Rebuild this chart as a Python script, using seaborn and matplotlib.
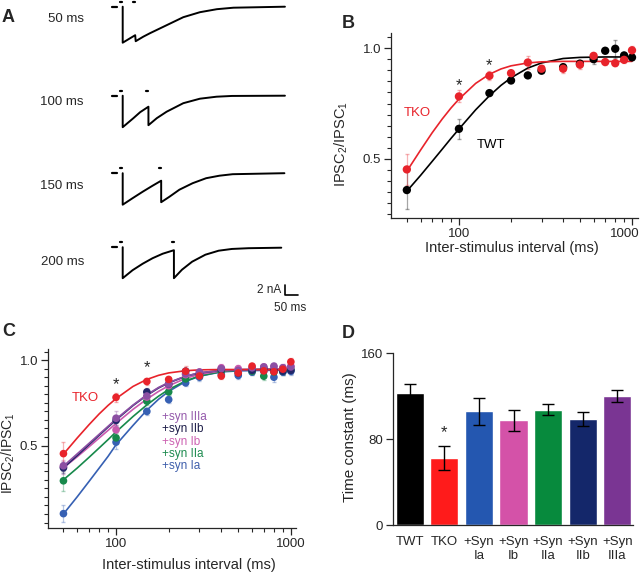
import matplotlib
matplotlib.use("Agg")
import matplotlib.pyplot as plt
import matplotlib.transforms as mtransforms
import pandas as pd
import seaborn as sns
from matplotlib.ticker import FixedLocator, MultipleLocator, NullFormatter

# ---------------- panel A: example traces (ms after 1st stimulus, nA)
TRACE_LABELS = ["50 ms", "100 ms", "150 ms", "200 ms"]
TRACE_INTERVALS = [50, 100, 150, 200]
TRACE_50_T = [0, 0, 48, 50, 79, 105, 169, 233, 297, 362, 426, 624]
TRACE_50_I = [0, -7.2, -5.7, -6.9, -6.0, -5.3, -3.7, -2.1, -1.1, -0.5, -0.2, 0]
TRACE_100_T = [0, 0, 41, 67, 99, 99, 131, 169, 233, 297, 361, 420, 624]
TRACE_100_I = [0, -6.3, -4.5, -3.3, -2.2, -5.9, -4.5, -3.2, -1.5, -0.6, -0.2, -0.05, 0]
TRACE_150_T = [0, 0, 38, 77, 115, 148, 148, 180, 218, 269, 321, 372, 423, 622]
TRACE_150_I = [0, -6.3, -5.0, -3.7, -2.5, -1.5, -5.8, -4.7, -3.3, -2.0, -1.0, -0.5, -0.2, 0]
TRACE_200_T = [0, 0, 38, 77, 115, 154, 197, 197, 228, 267, 318, 369, 420, 484, 610]
TRACE_200_I = [0, -6.2, -4.6, -3.3, -2.2, -1.3, -0.6, -6.2, -4.5, -2.9, -1.5, -0.7, -0.35, -0.2, -0.1]

# ---------------- panel B: paired-pulse ratio, TWT vs TKO
ISI = [50, 100, 150, 200, 250, 300, 400, 500, 600, 700, 800, 900, 1000]
TWT_MEAN = [0.36, 0.636, 0.797, 0.854, 0.877, 0.898, 0.914, 0.93, 0.95, 0.988, 0.997, 0.967, 0.958]
TWT_SEM = [0.087, 0.044, 0.01, 0.01, 0.01, 0.01, 0.015, 0.01, 0.02, 0.01, 0.04, 0.01, 0.01]
TKO_MEAN = [0.453, 0.782, 0.875, 0.887, 0.935, 0.907, 0.907, 0.925, 0.965, 0.937, 0.932, 0.947, 0.99]
TKO_SEM = [0.07, 0.027, 0.02, 0.01, 0.03, 0.015, 0.02, 0.02, 0.015, 0.015, 0.015, 0.015, 0.02]

FIT_T = [50, 60, 70, 80, 90, 100, 125, 150, 175, 200, 250, 300, 400, 500, 700, 1000]
TWT_FIT = [0.355, 0.426, 0.489, 0.544, 0.593, 0.635, 0.722, 0.785, 0.832, 0.866, 0.91, 0.933, 0.953, 0.958, 0.96, 0.96]
TKO_FIT = [0.445, 0.54, 0.618, 0.68, 0.73, 0.77, 0.841, 0.882, 0.906, 0.92, 0.933, 0.938, 0.94, 0.94, 0.94, 0.94]

# ---------------- panel C: rescue with single synapsins
C_GROUPS = ["TKO", "+syn IIIa", "+syn IIb", "+syn Ib", "+syn IIa", "+syn Ia"]
IIIA_MEAN = [0.382, 0.66, 0.79, 0.86, 0.92, 0.93, 0.95, 0.94, 0.955, 0.96, 0.965, 0.955, 0.96]
IIB_MEAN = [0.37, 0.647, 0.814, 0.86, 0.935, 0.92, 0.945, 0.925, 0.94, 0.95, 0.94, 0.935, 0.94]
IB_MEAN = [0.375, 0.592, 0.784, 0.85, 0.915, 0.93, 0.955, 0.95, 0.95, 0.96, 0.96, 0.955, 0.965]
IIA_MEAN = [0.294, 0.545, 0.76, 0.814, 0.89, 0.91, 0.935, 0.94, 0.935, 0.906, 0.93, 0.935, 0.945]
IA_MEAN = [0.102, 0.52, 0.70, 0.769, 0.867, 0.90, 0.915, 0.91, 0.93, 0.935, 0.90, 0.93, 0.935]
IIIA_SEM = [0.03, 0.04, 0.02, 0.02, 0.03, 0.02, 0.02, 0.02, 0.02, 0.02, 0.02, 0.02, 0.02]
IIB_SEM = [0.03, 0.03, 0.02, 0.02, 0.02, 0.02, 0.02, 0.02, 0.02, 0.02, 0.02, 0.02, 0.02]
IB_SEM = [0.04, 0.03, 0.02, 0.02, 0.02, 0.02, 0.02, 0.02, 0.02, 0.02, 0.02, 0.02, 0.02]
IIA_SEM = [0.06, 0.03, 0.02, 0.02, 0.02, 0.02, 0.02, 0.02, 0.02, 0.02, 0.02, 0.02, 0.02]
IA_SEM = [0.05, 0.04, 0.02, 0.02, 0.02, 0.02, 0.02, 0.02, 0.02, 0.02, 0.03, 0.02, 0.02]

TKO_FIT_C = [0.45, 0.545, 0.622, 0.685, 0.735, 0.775, 0.846, 0.887, 0.911, 0.925, 0.938, 0.943, 0.945, 0.945, 0.945, 0.945]
IIIA_FIT = [0.38, 0.452, 0.513, 0.566, 0.613, 0.655, 0.737, 0.797, 0.84, 0.869, 0.906, 0.926, 0.94, 0.944, 0.945, 0.945]
IIB_FIT = [0.37, 0.442, 0.505, 0.56, 0.608, 0.65, 0.734, 0.794, 0.837, 0.867, 0.905, 0.925, 0.94, 0.944, 0.945, 0.945]
IB_FIT = [0.37, 0.435, 0.493, 0.544, 0.589, 0.63, 0.712, 0.772, 0.817, 0.85, 0.893, 0.917, 0.937, 0.943, 0.945, 0.945]
IIA_FIT = [0.30, 0.369, 0.431, 0.486, 0.535, 0.58, 0.67, 0.738, 0.789, 0.828, 0.878, 0.907, 0.933, 0.941, 0.945, 0.945]
IA_FIT = [0.10, 0.201, 0.29, 0.368, 0.437, 0.505, 0.618, 0.707, 0.771, 0.817, 0.875, 0.906, 0.931, 0.937, 0.94, 0.94]

# ---------------- panel D: recovery time constants
D_GROUPS = ["TWT", "TKO", "+Syn\nIa", "+Syn\nIb", "+Syn\nIIa", "+Syn\nIIb", "+Syn\nIIIa"]
D_TAU = [122.7, 62.2, 105.7, 97.3, 107.2, 98.5, 119.6]
D_SEM = [8.7, 11.5, 12.4, 10.0, 5.0, 6.5, 5.6]

RED = "#e8232b"
C_COLORS = [RED, "#8c4fa3", "#23276a", "#c95aae", "#17894b", "#3660b3"]
C_TEXT_COLORS = [RED, "#9459ab", "#1c1c48", "#cd62b2", "#1d8b4f", "#3e5eab"]
D_COLORS = ["#000000", "#ff1b1b", "#2457b0", "#d452a8", "#078a3d", "#14276a", "#7a3593"]

sns.set_theme(style="ticks")
plt.rcParams["font.family"] = ["Liberation Sans", "DejaVu Sans"]
plt.rcParams["mathtext.default"] = "regular"
plt.rcParams["axes.linewidth"] = 0.9
plt.rcParams["xtick.major.width"] = 0.9
plt.rcParams["ytick.major.width"] = 0.9
plt.rcParams["xtick.minor.width"] = 0.8
plt.rcParams["ytick.minor.width"] = 0.8

W, H = 640, 572
fig = plt.figure(figsize=(W / 100, H / 100), dpi=100)


def px_axes(x0, y0, x1, y1):
    return fig.add_axes([x0 / W, 1 - y1 / H, (x1 - x0) / W, (y1 - y0) / H])


def letter(x, y, s):
    fig.text(x / W, 1 - y / H, s, fontsize=13, fontweight="bold", va="center", ha="left")


# ---------------- A
axa = px_axes(100, 0, 310, 300)
axa.set_xlim(-87.3, 720.4)
axa.set_ylim(-58.66, 1.34)
axa.axis("off")
traces = [(TRACE_50_T, TRACE_50_I), (TRACE_100_T, TRACE_100_I),
          (TRACE_150_T, TRACE_150_I), (TRACE_200_T, TRACE_200_I)]
offsets = [0, -17.8, -33.3, -48.1]
label_y = [19, 102, 186, 262]
for (t, i), off, isi, lab, ly in zip(traces, offsets, TRACE_INTERVALS, TRACE_LABELS, label_y):
    axa.plot(t, [v + off for v in i], color="black", lw=1.4)
    axa.plot([-42, -21], [off, off], color="black", lw=1.6)
    for s in (0, isi):
        axa.plot([s - 10, s - 3], [off + 1.0, off + 1.0], color="black", lw=1.6)
    fig.text(84 / W, 1 - ly / H, lab, fontsize=9.5, ha="right", va="center")
axa.plot([624, 624, 674], [-55.66, -57.66, -57.66], color="black", lw=1.2)
axa.text(611, -56.6, "2 nA", fontsize=8.5, ha="right", va="center")
axa.text(644, -60.2, "50 ms", fontsize=8.5, ha="center", va="center")


def ratio_axis(ax, xlim, ylim):
    ax.set_xscale("log")
    ax.set_xlim(*xlim)
    ax.set_ylim(*ylim)
    ax.xaxis.set_major_locator(FixedLocator([100, 1000]))
    ax.xaxis.set_minor_locator(FixedLocator([50, 60, 70, 80, 90, 200, 300, 400, 500, 600, 700, 800, 900]))
    ax.xaxis.set_minor_formatter(NullFormatter())
    ax.set_xticklabels(["100", "1000"])
    ax.yaxis.set_major_locator(FixedLocator([0.5, 1.0]))
    ax.yaxis.set_minor_locator(MultipleLocator(0.05))
    ax.set_yticklabels(["0.5", "1.0"])
    ax.tick_params(which="major", length=5, labelsize=9.5, pad=2)
    ax.tick_params(which="minor", length=3)
    sns.despine(ax=ax)
    ax.set_xlabel("Inter-stimulus interval (ms)", fontsize=10.5, labelpad=1)
    ax.set_ylabel("IPSC$_2$/IPSC$_1$", fontsize=10.5)


def series(ax, mean, sem, fit, color, ms=6):
    pts = pd.DataFrame({"isi": ISI, "ratio": mean})
    fit_df = pd.DataFrame({"isi": FIT_T, "ratio": fit})
    ax.errorbar(ISI, mean, yerr=sem, fmt="none", ecolor=color, alpha=0.35, elinewidth=0.9, capsize=1.5)
    sns.lineplot(data=fit_df, x="isi", y="ratio", color=color, lw=1.2, ax=ax)
    sns.scatterplot(data=pts, x="isi", y="ratio", color=color, s=ms ** 2, edgecolor="none", ax=ax, zorder=3)


# ---------------- B
axb = px_axes(391, 33, 638, 218)
series(axb, TWT_MEAN, TWT_SEM, TWT_FIT, "black")
series(axb, TKO_MEAN, TKO_SEM, TKO_FIT, RED)
ratio_axis(axb, (40.5, 1083), (0.234, 1.068))
axb.xaxis.set_label_coords(0.49, -0.125)
axb.yaxis.set_label_coords(-0.166, 0.4)
# keep the "1000" label inside the figure, as in the original
shift = mtransforms.ScaledTranslation(-7 / 100, 0, fig.dpi_scale_trans)
for lab in axb.get_xticklabels():
    if lab.get_text() == "1000":
        lab.set_transform(lab.get_transform() + shift)
axb.text(48, 0.707, "TKO", color=RED, fontsize=9.5, va="center")
axb.text(127, 0.563, "TWT", color="black", fontsize=9.5, va="center")
axb.text(100, 0.83, "*", fontsize=12, ha="center", va="center")
axb.text(150, 0.92, "*", fontsize=12, ha="center", va="center")

# ---------------- C
axc = px_axes(48, 349, 296, 528)
c_series = [(TKO_MEAN, TKO_SEM, TKO_FIT_C), (IIIA_MEAN, IIIA_SEM, IIIA_FIT),
            (IIB_MEAN, IIB_SEM, IIB_FIT), (IB_MEAN, IB_SEM, IB_FIT),
            (IIA_MEAN, IIA_SEM, IIA_FIT), (IA_MEAN, IA_SEM, IA_FIT)]
for (m, s, f), col in reversed(list(zip(c_series, C_COLORS))):
    series(axc, m, s, f, col, ms=5.5)
ratio_axis(axc, (40.8, 1070), (0.018, 1.065))
axc.set_ylabel("IPSC$_2$/IPSC$_1$", fontsize=10)
axc.xaxis.set_label_coords(0.57, -0.165)
axc.yaxis.set_label_coords(-0.125, 0.42)
axc.text(56, 0.776, "TKO", color=RED, fontsize=9.5, va="center")
axc.text(100, 0.855, "*", fontsize=12, ha="center", va="center")
axc.text(150, 0.955, "*", fontsize=12, ha="center", va="center")
for lab, col, yy in zip(C_GROUPS[1:], C_TEXT_COLORS[1:], [0.667, 0.595, 0.522, 0.45, 0.378]):
    axc.text(183, yy, lab, color=col, fontsize=8.5, va="center")

# ---------------- D
axd = px_axes(393, 353, 633, 525)
d_df = pd.DataFrame({"group": D_GROUPS, "tau": D_TAU})
sns.barplot(data=d_df, x="group", y="tau", hue="group", palette=D_COLORS,
            saturation=1, width=0.81, legend=False, ax=axd)
axd.errorbar(range(len(D_TAU)), D_TAU, yerr=D_SEM, fmt="none", ecolor="black", elinewidth=1.0, capsize=4)
axd.set_xlim(-0.48, 6.45)
axd.set_ylim(0, 160)
axd.set_yticks([0, 80, 160])
axd.tick_params(axis="y", length=5, labelsize=9.5, pad=2)
axd.tick_params(axis="x", length=0, labelsize=9.5, pad=8)
sns.despine(ax=axd)
axd.set_xlabel("")
axd.set_ylabel("Time constant (ms)", fontsize=11)
axd.yaxis.set_label_coords(-0.15, 0.51)
axd.text(1, 86, "*", fontsize=12, ha="center", va="center")

letter(2, 17, "A")
letter(342, 23, "B")
letter(2, 331, "C")
letter(342, 333, "D")

fig.savefig("out.png", dpi=100)
